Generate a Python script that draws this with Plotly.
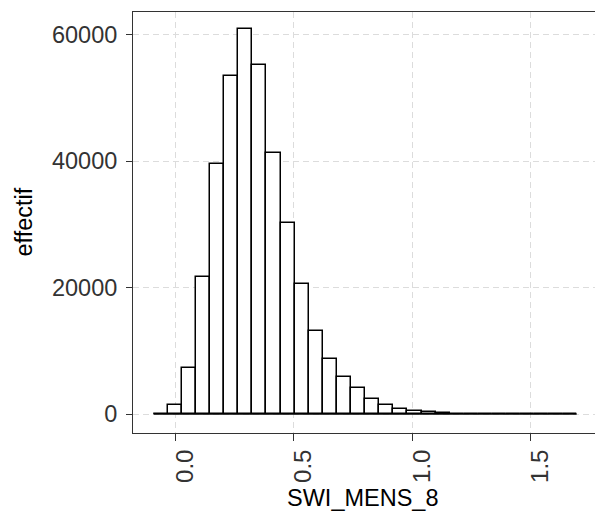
import plotly.graph_objects as go

# Histogram data (30 bins)
bin_start = -0.0905
bin_width = 0.0595
counts = [0, 1450, 7300, 21600, 39600, 53500, 60900, 55200, 41300, 30200,
          20500, 13200, 8700, 5800, 4100, 2300, 1400, 800, 450, 250,
          130, 80, 50, 35, 25, 15, 0, 0, 0, 0]

x_ticks = [0.0, 0.5, 1.0, 1.5]
x_tick_labels = ["0.0", "0.5", "1.0", "1.5"]
y_ticks = [0, 20000, 40000, 60000]
y_tick_labels = ["0", "20000", "40000", "60000"]
x_title = "SWI_MENS_8"
y_title = "effectif"

n = len(counts)
centers = [bin_start + bin_width * (i + 0.5) for i in range(n)]
bin_end = bin_start + bin_width * n

FONT = "Liberation Sans, Arial, sans-serif"
GRID = "#dcdcdc"
BORDER = "#333333"
W = 610
PLOT_W = W - 133

fig = go.Figure()
# baseline (outline of empty bins)
fig.add_trace(go.Scatter(x=[bin_start, bin_end], y=[0, 0], mode="lines",
                         line=dict(color="black", width=1.5),
                         hoverinfo="skip", showlegend=False))
fig.add_trace(go.Bar(x=centers, y=counts, width=bin_width,
                     marker=dict(color="white", line=dict(color="black", width=1.5)),
                     showlegend=False))

fig.update_layout(
    width=W, height=511,
    margin=dict(l=133, r=0, t=12, b=78, autoexpand=False),
    plot_bgcolor="white", paper_bgcolor="white",
    font=dict(family=FONT, color="black"),
    bargap=0,
    annotations=[
        dict(text=x_title, xref="paper", yref="paper", x=(363 - 133) / PLOT_W, y=0, yshift=-50,
             xanchor="center", yanchor="top", showarrow=False,
             font=dict(size=23.5, color="black")),
        dict(text=y_title, xref="paper", yref="paper", x=0, y=0.5, xshift=-110,
             xanchor="center", yanchor="middle", textangle=-90, showarrow=False,
             font=dict(size=23.5, color="black")),
    ],
)
fig.update_xaxes(
    range=[-0.1775, -0.1775 + PLOT_W / 237.0], tickmode="array", tickvals=x_ticks,
    ticktext=x_tick_labels,
    tickangle=-90, ticks="outside", ticklen=7, tickcolor=BORDER, tickwidth=1,
    tickfont=dict(size=24, color="#333333"), ticklabelshift=10, ticklabelstandoff=-1,
    showgrid=True, gridcolor=GRID, griddash="6px,4px", gridwidth=1,
    showline=True, linecolor=BORDER, linewidth=1, mirror=True,
    zeroline=False, automargin=False,
)
fig.update_yaxes(
    range=[-3000, 63570], tickmode="array", tickvals=y_ticks, ticktext=y_tick_labels,
    ticks="outside", ticklen=6, tickcolor=BORDER, tickwidth=1,
    tickfont=dict(size=23.5, color="#333333"), ticklabelstandoff=4,
    showgrid=True, gridcolor=GRID, griddash="6px,4px", gridwidth=1,
    showline=True, linecolor=BORDER, linewidth=1,
    zeroline=False, automargin=False,
)

fig.write_html("out.html", config={"displayModeBar": False},
               post_script="document.body.style.margin='0px';"
                           "document.body.style.overflow='hidden';")
